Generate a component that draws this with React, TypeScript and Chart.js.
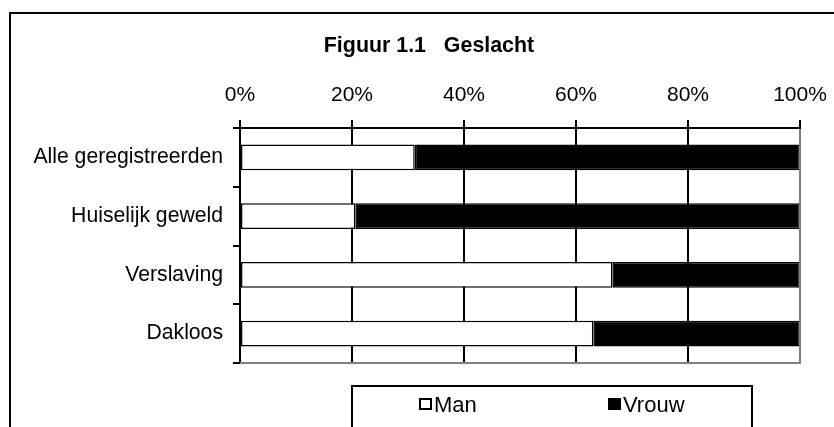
import React, { useEffect, useRef } from "react";
import { Chart, registerables } from "chart.js";

Chart.register(...registerables);

const categories = ["Alle geregistreerden", "Huiselijk geweld", "Verslaving", "Dakloos"];
const manValues = [31.2, 20.6, 66.5, 63.1];
const vrouwValues = [68.8, 79.4, 33.5, 36.9];
const seriesNames = ["Man", "Vrouw"];
const titleText = "Figuur 1.1   Geslacht";

const FONT = "'Liberation Sans', Arial, sans-serif";

const framePlugin = {
  id: "framePlugin",
  beforeDraw(chart: any) {
    const ctx = chart.ctx;
    ctx.save();
    ctx.fillStyle = "#fff";
    ctx.fillRect(0, 0, chart.width, chart.height);
    ctx.restore();
  },
  afterDraw(chart: any) {
    const ctx = chart.ctx;
    const area = chart.chartArea;
    ctx.save();
    // outer frame
    ctx.strokeStyle = "#000";
    ctx.lineWidth = 2;
    ctx.strokeRect(10, 13, 840, 440);
    // plot area right/bottom border (gray)
    ctx.strokeStyle = "#808080";
    ctx.lineWidth = 2;
    ctx.beginPath();
    ctx.moveTo(area.left, area.bottom);
    ctx.lineTo(area.right, area.bottom);
    ctx.lineTo(area.right, area.top + 1);
    ctx.stroke();
    // title
    ctx.fillStyle = "#000";
    ctx.font = `bold 21.4px ${FONT}`;
    ctx.textAlign = "center";
    ctx.textBaseline = "alphabetic";
    ctx.fillText(titleText, 429, 52);
    // legend box
    ctx.strokeStyle = "#000";
    ctx.lineWidth = 2;
    ctx.strokeRect(352, 386, 400, 80);
    // legend items
    const items = [
      { x: 419, fill: "#fff", label: seriesNames[0] },
      { x: 608, fill: "#000", label: seriesNames[1] },
    ];
    ctx.font = `22px ${FONT}`;
    ctx.textAlign = "left";
    items.forEach((it) => {
      ctx.fillStyle = it.fill;
      ctx.fillRect(it.x, 398, 13, 12);
      ctx.strokeStyle = "#000";
      ctx.lineWidth = 2;
      ctx.strokeRect(it.x + 1, 399, 11, 10);
      ctx.fillStyle = "#000";
      ctx.fillText(it.label, it.x + 15, 412);
    });
    ctx.restore();
  },
};

export default function App() {
  const canvasRef = useRef<HTMLCanvasElement | null>(null);

  useEffect(() => {
    const canvas = canvasRef.current;
    if (!canvas) return;
    const chart = new Chart(canvas, {
      type: "bar",
      data: {
        labels: categories,
        datasets: [
          {
            label: seriesNames[0],
            data: manValues,
            backgroundColor: "#ffffff",
            borderColor: "#000000",
            borderWidth: 1.5,
            borderSkipped: false,
            barPercentage: 0.44,
            categoryPercentage: 1,
          },
          {
            label: seriesNames[1],
            data: vrouwValues,
            backgroundColor: "#000000",
            borderColor: "#000000",
            borderWidth: 1.5,
            borderSkipped: false,
            barPercentage: 0.44,
            categoryPercentage: 1,
          },
        ],
      },
      options: {
        indexAxis: "y",
        responsive: false,
        animation: false,
        devicePixelRatio: 1,
        layout: { padding: { left: 0, right: 34, top: 0, bottom: 64 } },
        plugins: {
          legend: { display: false },
          title: { display: false },
          tooltip: { enabled: false },
        },
        scales: {
          x: {
            position: "top",
            stacked: true,
            min: 0,
            max: 100,
            afterFit: (s: any) => {
              s.height = 128;
              s.paddingLeft = 0;
              s.paddingRight = 0;
            },
            ticks: {
              stepSize: 20,
              color: "#000",
              font: { family: FONT, size: 21 },
              padding: 12,
              maxRotation: 0,
              callback: (v: any) => `${v}%`,
            },
            grid: {
              color: (c: any) => (c.tick && c.tick.value === 100 ? "#808080" : "#000"),
              tickColor: "#000",
              lineWidth: 2,
              tickLength: 8,
              drawOnChartArea: true,
              drawTicks: true,
            },
            border: { display: true, color: "#000", width: 2 },
          },
          y: {
            stacked: true,
            afterFit: (s: any) => {
              s.width = 240;
              s.paddingTop = 0;
              s.paddingBottom = 0;
            },
            ticks: {
              color: "#000",
              font: { family: FONT, size: 21.2 },
              padding: 10,
            },
            grid: {
              offset: true,
              drawOnChartArea: false,
              drawTicks: true,
              tickLength: 7,
              color: "#000",
              lineWidth: 2,
            },
            border: { display: true, color: "#000", width: 2 },
          },
        },
      },
      plugins: [framePlugin],
    });
    return () => chart.destroy();
  }, []);

  return (
    <div style={{ position: "fixed", left: 0, top: 0, width: 834, height: 427, background: "#fff" }}>
      <canvas ref={canvasRef} width={834} height={427} style={{ display: "block" }} />
    </div>
  );
}
